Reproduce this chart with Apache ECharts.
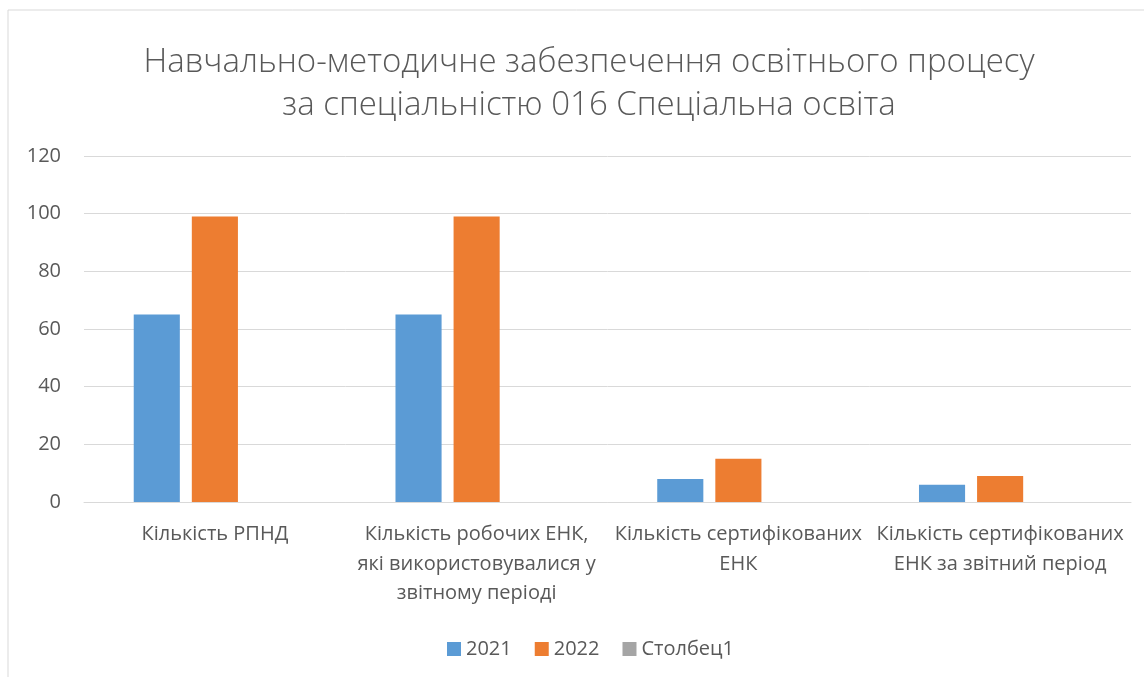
<!DOCTYPE html>
<html><head><meta charset="utf-8">
<script src="https://cdn.jsdelivr.net/npm/echarts@6/dist/echarts.min.js"></script>
<style>html,body{margin:0;padding:0;background:#fff}#c{width:1144px;height:677px}</style>
</head><body><div id="c"></div>
<script>
const titleText = 'Навчально-методичне забезпечення освітнього процесу\nза спеціальністю 016 Спеціальна освіта';
const categories = ['Кількість РПНД', 'Кількість робочих ЕНК,\nякі використовувалися у\nзвітному періоді', 'Кількість сертифікованих\nЕНК', 'Кількість сертифікованих\nЕНК за звітний період'];
const seriesNames = ['2021', '2022', 'Столбец1'];
const values2021 = [65, 65, 8, 6];
const values2022 = [99, 99, 15, 9];
const valuesCol1 = [null, null, null, null];
const colors = ['#5B9BD5', '#ED7D31', '#A5A5A5'];
const font = '"Open Sans", "Noto Sans", sans-serif';
const chart = echarts.init(document.getElementById('c'), null, {renderer: 'canvas'});
chart.setOption({
  animation: false,
  color: colors,
  graphic: [{type: 'rect', shape: {x: 8, y: 10, width: 1300, height: 900}, style: {fill: null, stroke: '#d9d9d9', lineWidth: 1}, silent: true}],
  title: {
    text: titleText, left: 584, textAlign: 'center', top: 36,
    textStyle: {fontFamily: font, fontWeight: 300, fontSize: 33, color: '#595959', lineHeight: 43}
  },
  legend: {
    top: 634, left: 442, itemWidth: 14, itemHeight: 14, itemGap: 23, icon: 'rect',
    textStyle: {fontFamily: font, fontSize: 20, color: '#595959'},
    data: seriesNames
  },
  grid: {left: 84, right: 13, top: 156, bottom: 175, containLabel: false},
  xAxis: {
    type: 'category', data: categories,
    axisLine: {show: true, lineStyle: {color: '#d9d9d9'}}, axisTick: {show: false},
    axisLabel: {fontFamily: font, fontSize: 20, color: '#595959', lineHeight: 29.5, margin: 18, interval: 0}
  },
  yAxis: {
    type: 'value', min: 0, max: 120, interval: 20,
    axisLine: {show: false}, axisTick: {show: false},
    splitLine: {lineStyle: {color: '#d9d9d9'}},
    axisLabel: {fontFamily: font, fontSize: 20, color: '#595959', margin: 23}
  },
  series: [
    {name: seriesNames[0], type: 'bar', data: values2021, barGap: '26%', barCategoryGap: '38%'},
    {name: seriesNames[1], type: 'bar', data: values2022, barGap: '26%', barCategoryGap: '38%'},
    {name: seriesNames[2], type: 'bar', data: valuesCol1, barGap: '26%', barCategoryGap: '38%'}
  ]
});
</script></body></html>
